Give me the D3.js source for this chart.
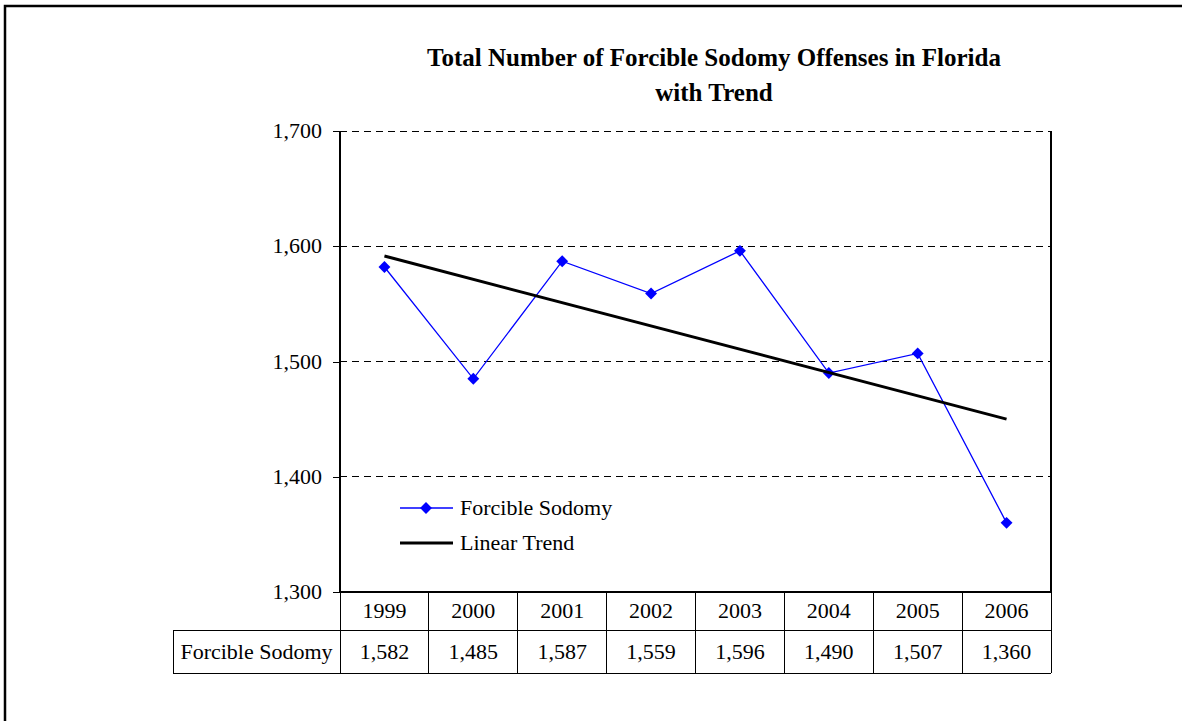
<!DOCTYPE html>
<html><head><meta charset="utf-8">
<script src="https://cdn.jsdelivr.net/npm/d3@7"></script>
<style>html,body{margin:0;padding:0;background:#fff;}svg{display:block;}</style>
</head><body>
<svg id="c" width="1182" height="721"></svg>
<script>
const years = ["1999","2000","2001","2002","2003","2004","2005","2006"];
const sodomy = [1582,1485,1587,1559,1596,1490,1507,1360];
const trend = [1591.5,1450];
const yTicks = [1300,1400,1500,1600,1700];
const titleLines = ["Total Number of Forcible Sodomy Offenses in Florida","with Trend"];
const seriesName = "Forcible Sodomy";
const trendName = "Linear Trend";

const svg = d3.select("#c");
const font = "'Liberation Serif','Times New Roman',serif";
const fs = 22;
const L=340,R=1051,T=131,B=592;
const rowH1=38,rowH2=43,labelL=173;

// outer frame
svg.append("path").attr("d","M5,1000 L5,6 L1300,6").attr("fill","none").attr("stroke","#000").attr("stroke-width",2.5);

const x = d3.scaleBand().domain(years).range([L,R]).padding(0);
const y = d3.scaleLinear().domain([1300,1700]).range([B,T]);
const fmt = d3.format(",");

// gridlines
svg.append("g").selectAll("line").data(yTicks.filter(d=>d>1300)).join("line")
 .attr("x1",L).attr("x2",R).attr("y1",d=>y(d)).attr("y2",d=>y(d))
 .attr("stroke","#000").attr("stroke-width",1).attr("stroke-dasharray","7,5").attr("shape-rendering","crispEdges");

// axis
const ax = svg.append("g").attr("transform",`translate(${L},0)`)
 .call(d3.axisLeft(y).tickValues(yTicks).tickFormat(fmt).tickSize(7).tickSizeOuter(0));
ax.select(".domain").remove();
ax.selectAll("line").attr("stroke","#000").attr("shape-rendering","crispEdges");
ax.selectAll("text").attr("font-family",font).attr("font-size",fs).attr("fill","#000").attr("x",-18).attr("dy","0.3em");

// plot border (left, right, bottom)
svg.append("path").attr("d",`M${L},${T} L${L},${B} L${R},${B} L${R},${T}`).attr("fill","none").attr("stroke","#000").attr("stroke-width",1.3).attr("shape-rendering","crispEdges");

// table
const tb = svg.append("g").attr("shape-rendering","crispEdges");
tb.append("line").attr("x1",L).attr("x2",R).attr("y1",B).attr("y2",B).attr("stroke","#000").attr("stroke-width",2);
tb.append("line").attr("x1",labelL).attr("x2",R).attr("y1",B+rowH1).attr("y2",B+rowH1).attr("stroke","#000");
tb.append("line").attr("x1",labelL).attr("x2",R).attr("y1",B+rowH1+rowH2).attr("y2",B+rowH1+rowH2).attr("stroke","#000");
tb.append("line").attr("x1",labelL).attr("x2",labelL).attr("y1",B+rowH1).attr("y2",B+rowH1+rowH2).attr("stroke","#000");
tb.selectAll(".vs").data(years).join("line").attr("class","vs")
 .attr("x1",d=>x(d)).attr("x2",d=>x(d)).attr("y1",B).attr("y2",B+rowH1+rowH2).attr("stroke","#000");
tb.append("line").attr("x1",R).attr("x2",R).attr("y1",B).attr("y2",B+rowH1+rowH2).attr("stroke","#000");
tb.selectAll(".yr").data(years).join("text").attr("class","yr")
 .attr("x",d=>x(d)+x.bandwidth()/2).attr("y",B+rowH1/2).attr("dy","0.3em").attr("text-anchor","middle")
 .attr("font-family",font).attr("font-size",fs).text(d=>d);
tb.selectAll(".vl").data(sodomy).join("text").attr("class","vl")
 .attr("x",(d,i)=>x(years[i])+x.bandwidth()/2).attr("y",B+rowH1+rowH2/2).attr("dy","0.33em").attr("text-anchor","middle")
 .attr("font-family",font).attr("font-size",fs).text(d=>fmt(d));
tb.append("text").attr("x",(labelL+L)/2).attr("y",B+rowH1+rowH2/2).attr("dy","0.33em").attr("text-anchor","middle")
 .attr("font-family",font).attr("font-size",fs).text(seriesName);

// series line
const cx = i=>x(years[i])+x.bandwidth()/2;
svg.append("path").datum(sodomy).attr("fill","none").attr("stroke","#0000FF").attr("stroke-width",1.3)
 .attr("d",d3.line().x((d,i)=>cx(i)).y(d=>y(d)));
const diamond = d3.symbol().type(d3.symbolDiamond2).size(90);
svg.selectAll(".pt").data(sodomy).join("path").attr("class","pt")
 .attr("transform",(d,i)=>`translate(${cx(i)},${y(d)})`).attr("d",diamond).attr("fill","#0000FF");

// trend
svg.append("path").datum(trend).attr("fill","none").attr("stroke","#000").attr("stroke-width",3)
 .attr("d",d3.line().x((d,i)=>cx(i*(years.length-1))).y(d=>y(d)));

// legend
const lg = svg.append("g");
lg.append("line").attr("x1",400).attr("x2",453).attr("y1",508).attr("y2",508).attr("stroke","#0000FF").attr("stroke-width",1.3);
lg.append("path").attr("transform","translate(426,508)").attr("d",diamond).attr("fill","#0000FF");
lg.append("text").attr("x",460).attr("y",508).attr("dy","0.33em").attr("font-family",font).attr("font-size",fs).text(seriesName);
lg.append("line").attr("x1",400).attr("x2",453).attr("y1",543).attr("y2",543).attr("stroke","#000").attr("stroke-width",3);
lg.append("text").attr("x",460).attr("y",543).attr("dy","0.33em").attr("font-family",font).attr("font-size",fs).text(trendName);

// title
svg.selectAll(".tt").data(titleLines).join("text").attr("class","tt")
 .attr("x",714).attr("y",(d,i)=>66+i*35).attr("text-anchor","middle")
 .attr("font-family",font).attr("font-size",25).attr("font-weight","bold").text(d=>d);
</script>
</body></html>
